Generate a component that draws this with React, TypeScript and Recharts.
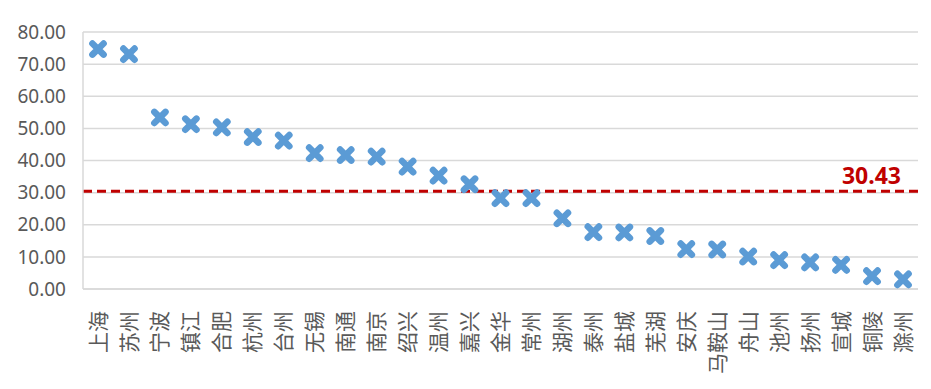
import { ComposedChart, Scatter, XAxis, YAxis, CartesianGrid, ReferenceLine } from 'recharts'

const cities = [
  '上海', '苏州', '宁波', '镇江', '合肥', '杭州', '台州', '无锡', '南通', '南京',
  '绍兴', '温州', '嘉兴', '金华', '常州', '湖州', '泰州', '盐城', '芜湖', '安庆',
  '马鞍山', '舟山', '池州', '扬州', '宣城', '铜陵', '滁州',
]
const values = [
  74.7, 73.1, 53.4, 51.3, 50.3, 47.3, 46.2, 42.3, 41.7, 41.2,
  38.1, 35.3, 32.6, 28.3, 28.3, 22.0, 17.7, 17.6, 16.5, 12.4,
  12.3, 10.1, 9.0, 8.3, 7.5, 4.0, 3.0,
]
const yTicks = [0, 10, 20, 30, 40, 50, 60, 70, 80]
const average = 30.43

const data = cities.map((name, i) => ({ name, value: values[i] }))

const TEXT = '#595959'
const BLUE = '#5B9BD5'
const RED = '#C00000'

// city names are rotated -90deg and hang from the axis, like the excel original
function CityTick(props: any) {
  const { x, y, payload } = props
  const ty = y + 14
  return (
    <text
      x={x}
      y={ty}
      dy="0.36em"
      textAnchor="end"
      transform={`rotate(-90, ${x}, ${ty})`}
      fill={TEXT}
      fontSize={21}
      fontFamily="'Noto Sans CJK SC'"
    >
      {payload.value}
    </text>
  )
}

function XMark(props: any) {
  const { cx, cy } = props
  if (cx == null || cy == null) return null
  const d = 5.6
  return (
    <path
      d={`M${cx - d},${cy - d}L${cx + d},${cy + d}M${cx + d},${cy - d}L${cx - d},${cy + d}`}
      stroke={BLUE}
      strokeWidth={6.5}
      strokeLinecap="round"
      fill="none"
    />
  )
}

function AvgLabel(props: any) {
  const { viewBox } = props
  return (
    <text
      x={viewBox.x + viewBox.width - 17}
      y={viewBox.y - 7}
      textAnchor="end"
      fill={RED}
      fontSize={23}
      fontWeight="bold"
      fontFamily="'Noto Sans'"
    >
      {average.toFixed(2)}
    </text>
  )
}

export default function App() {
  return (
    <div style={{ position: 'absolute', left: 0, top: 0, background: '#fff' }}>
      <ComposedChart width={931} height={389} data={data} margin={{ top: 32, right: 13, left: 0, bottom: 0 }}>
        <CartesianGrid vertical={false} stroke="#D9D9D9" strokeWidth={1.5} />
        <XAxis
          dataKey="name"
          type="category"
          interval={0}
          height={100}
          padding={{ left: 15, right: 15 }}
          tick={<CityTick />}
          tickLine={false}
          axisLine={{ stroke: '#D9D9D9', strokeWidth: 1.5 }}
        />
        <YAxis
          domain={[0, 80]}
          ticks={yTicks}
          width={83}
          tickSize={0}
          tickMargin={17}
          tickLine={false}
          axisLine={{ stroke: '#D9D9D9', strokeWidth: 1.5 }}
          tickFormatter={(v: number) => v.toFixed(2)}
          tick={{ fill: TEXT, fontSize: 19, fontFamily: "'Noto Sans'" }}
        />
        <ReferenceLine
          y={average}
          stroke={RED}
          strokeWidth={3}
          strokeDasharray="9 5"
          label={<AvgLabel />}
        />
        <Scatter dataKey="value" shape={<XMark />} isAnimationActive={false} />
      </ComposedChart>
    </div>
  )
}
